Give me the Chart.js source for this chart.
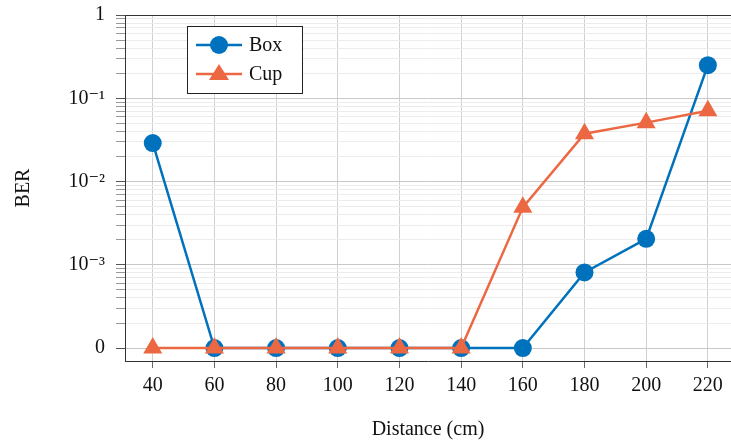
<!DOCTYPE html>
<html>
<head>
<meta charset="utf-8">
<script src="https://cdn.jsdelivr.net/npm/chart.js@4.4.0/dist/chart.umd.min.js"></script>
<style>
  html, body { margin: 0; padding: 0; background: #fff; }
  #wrap { width: 731px; height: 446px; }
</style>
</head>
<body>
<div id="wrap"><canvas id="berChart"></canvas></div>
<script>
// distances in cm, BER per shape; 1e-4 is the floor shown as "0"
const distances = [40, 60, 80, 100, 120, 140, 160, 180, 200, 220];
const boxBer = [0.029, 1e-4, 1e-4, 1e-4, 1e-4, 1e-4, 1e-4, 8.1e-4, 2.05e-3, 0.25];
const cupBer = [1e-4, 1e-4, 1e-4, 1e-4, 1e-4, 1e-4, 4.9e-3, 0.0375, 0.051, 0.071];
const yTickValues = [1e-4, 1e-3, 1e-2, 1e-1, 1];
const yTickLabels = ['0', '10⁻³', '10⁻²', '10⁻¹', '1'];

const BLUE = '#0072bd';
const ORANGE = '#ec6842';
const FONT = '"Liberation Serif", "DejaVu Serif", serif';

const canvas = document.getElementById('berChart');

// frame on top + little legend box with line & marker like pgfplots
const framePlugin = {
    id: 'frame',
    afterDraw(chart) {
        const { ctx, chartArea: a } = chart;
        ctx.save();
        ctx.strokeStyle = '#333';
        ctx.lineWidth = 1;
        ctx.beginPath();
        ctx.moveTo(a.left, a.top + 0.5);
        ctx.lineTo(a.right, a.top + 0.5);
        ctx.stroke();

        // legend
        const lx = 187, ly = 26, lw = 115, lh = 67;
        ctx.fillStyle = '#fff';
        ctx.fillRect(lx, ly, lw, lh);
        ctx.strokeStyle = '#222';
        ctx.strokeRect(lx + 0.5, ly + 0.5, lw, lh);
        chart.data.datasets.forEach((ds, i) => {
            const y = ly + 19 + i * 29;
            ctx.strokeStyle = ds.borderColor;
            ctx.lineWidth = 2.5;
            ctx.beginPath();
            ctx.moveTo(lx + 9, y);
            ctx.lineTo(lx + 55, y);
            ctx.stroke();
            ctx.fillStyle = ds.backgroundColor;
            ctx.beginPath();
            if (ds.pointStyle === 'triangle') {
                ctx.moveTo(lx + 32, y - 10);
                ctx.lineTo(lx + 42, y + 6);
                ctx.lineTo(lx + 22, y + 6);
                ctx.closePath();
            } else {
                ctx.arc(lx + 32, y, 9, 0, Math.PI * 2);
            }
            ctx.fill();
            ctx.fillStyle = '#111';
            ctx.font = '20px ' + FONT;
            ctx.textBaseline = 'middle';
            ctx.fillText(ds.label, lx + 62, y + 1);
        });
        ctx.restore();
    }
};

new Chart(canvas, {
    type: 'line',
    data: {
        datasets: [
            {
                label: 'Box',
                data: distances.map((d, i) => ({ x: d, y: boxBer[i] })),
                order: 1,
                borderColor: BLUE,
                backgroundColor: BLUE,
                borderWidth: 2.5,
                pointStyle: 'circle',
                pointRadius: 9,
                pointHoverRadius: 9,
                pointBorderWidth: 0
            },
            {
                label: 'Cup',
                data: distances.map((d, i) => ({ x: d, y: cupBer[i] })),
                order: 0, // drawn on top of Box
                borderColor: ORANGE,
                backgroundColor: ORANGE,
                borderWidth: 2.5,
                pointStyle: 'triangle',
                pointRadius: 11,
                pointHoverRadius: 11,
                pointBorderWidth: 0
            }
        ]
    },
    options: {
        responsive: true,
        maintainAspectRatio: false,
        animation: false,
        events: [],
        layout: { autoPadding: false, padding: { top: 15, right: 0, left: 0, bottom: 0 } },
        plugins: { legend: { display: false }, tooltip: { enabled: false } },
        scales: {
            x: {
                type: 'linear',
                min: 31,
                max: 227.5,
                afterBuildTicks: s => { s.ticks = distances.map(v => ({ value: v })); },
                afterFit: s => { s.height = 85; s.paddingRight = 0; s.paddingLeft = 0; },
                border: { color: '#333', width: 1 },
                grid: { color: '#d0d0d0', tickColor: '#666', tickLength: 7 },
                ticks: { color: '#111', font: { family: FONT, size: 20 }, padding: 6, maxRotation: 0 },
                title: {
                    display: true, text: 'Distance (cm)', color: '#111',
                    font: { family: FONT, size: 20 }, padding: { top: 4 }
                }
            },
            y: {
                type: 'logarithmic',
                min: Math.pow(10, -4.125),
                max: 1,
                afterBuildTicks: s => {
                    const t = [];
                    for (let e = -4; e < 0; e++) {
                        for (let m = 1; m < 10; m++) t.push({ value: m * Math.pow(10, e), major: m === 1 });
                    }
                    t.push({ value: 1, major: true });
                    s.ticks = t;
                },
                afterFit: s => { s.width = 125; s.paddingTop = 0; s.paddingBottom = 0; },
                border: { color: '#333', width: 1 },
                grid: {
                    color: c => (c.tick && c.tick.major ? '#c8c8c8' : '#ececec'),
                    tickColor: c => (c.tick && c.tick.major ? '#555' : '#999'),
                    tickLength: 9
                },
                ticks: {
                    autoSkip: false,
                    color: '#111',
                    font: { family: FONT, size: 20 },
                    padding: 11,
                    callback: v => {
                        const k = yTickValues.findIndex(t => Math.abs(Math.log10(t) - Math.log10(v)) < 1e-6);
                        return k >= 0 ? yTickLabels[k] : '';
                    }
                },
                title: {
                    display: true, text: 'BER', color: '#111',
                    font: { family: FONT, size: 20 }, padding: { top: 12, bottom: 0 }
                }
            }
        }
    },
    plugins: [framePlugin]
});
</script>
</body>
</html>
